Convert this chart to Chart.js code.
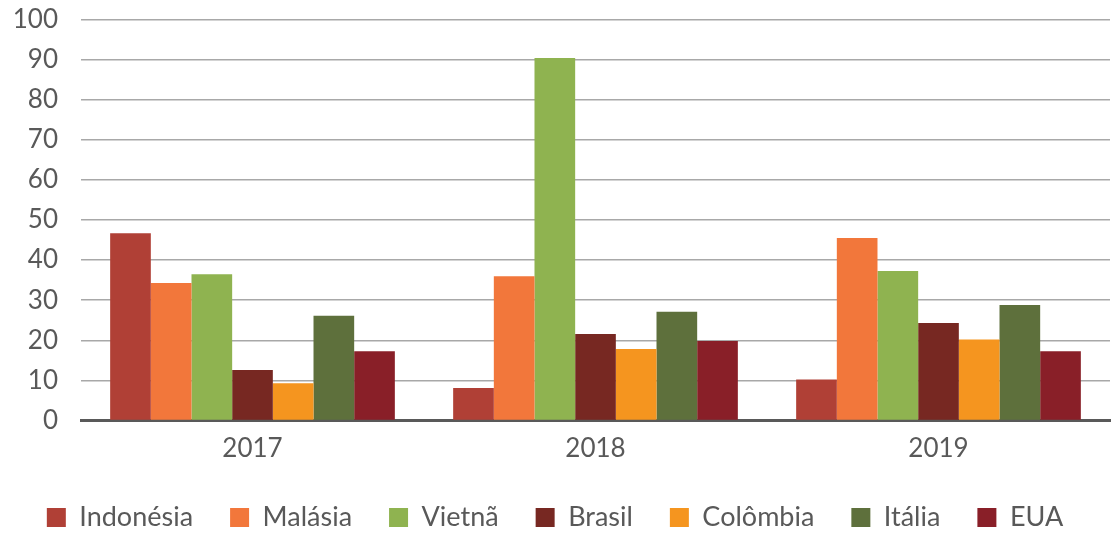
<!DOCTYPE html>
<html>
<head>
<meta charset="utf-8">
<script src="https://cdn.jsdelivr.net/npm/chart.js@4/dist/chart.umd.min.js"></script>
<style>
  html, body { margin: 0; padding: 0; background: #fff; }
  #wrap { width: 1111px; height: 533px; }
</style>
</head>
<body>
<div id="wrap"><canvas id="chart"></canvas></div>
<script>
const anos = ['2017', '2018', '2019'];
const paises = ['Indonésia', 'Malásia', 'Vietnã', 'Brasil', 'Colômbia', 'Itália', 'EUA'];
const cores = ['#b04036', '#f2773b', '#8fb350', '#772822', '#f5951f', '#5e703c', '#891f28'];

const indonesia = [46.7, 8.1, 10.2];
const malasia   = [34.3, 36.0, 45.5];
const vietna    = [36.5, 90.4, 37.3];
const brasil    = [12.6, 21.6, 24.3];
const colombia  = [9.3, 17.8, 20.2];
const italia    = [26.1, 27.1, 28.8];
const eua       = [17.3, 19.8, 17.3];

const series = [indonesia, malasia, vietna, brasil, colombia, italia, eua];
const texto = '#595959';
const fonte = 'Lato, "Open Sans", sans-serif';

// legenda mais baixa: altura fixa em vez do cálculo padrão
const alturaLegenda = {
  id: 'alturaLegenda',
  beforeInit(chart) {
    const fit = chart.legend.fit;
    chart.legend.fit = function () {
      fit.call(this);
      this.height = 66;
    };
  }
};

new Chart(document.getElementById('chart'), {
  type: 'bar',
  data: {
    labels: anos,
    datasets: series.map((d, i) => ({
      label: paises[i],
      data: d,
      backgroundColor: cores[i],
      borderWidth: 0
    }))
  },
  options: {
    responsive: true,
    maintainAspectRatio: false,
    animation: false,
    datasets: { bar: { categoryPercentage: 0.83, barPercentage: 1 } },
    layout: { padding: { top: 0, right: 1, bottom: 0, left: 0 } },
    plugins: {
      tooltip: { enabled: false },
      legend: {
        position: 'bottom',
        labels: {
          color: texto,
          font: { family: fonte, size: 27 },
          boxWidth: 19,
          boxHeight: 19,
          padding: 37
        }
      }
    },
    scales: {
      x: {
        grid: { display: false, drawTicks: false },
        border: { display: true, color: '#595959', width: 3 },
        ticks: { color: texto, font: { family: fonte, size: 26, lineHeight: 1.35 }, padding: 11 },
        afterFit(s) { s.height = 46.5; }
      },
      y: {
        min: 0,
        max: 100,
        ticks: { stepSize: 10, color: texto, font: { family: fonte, size: 26 }, padding: 23 },
        grid: { color: '#a8a8a8', lineWidth: 1.5, drawTicks: false },
        border: { display: false },
        afterFit(s) { s.width = 81; s.paddingTop = 19.5; }
      }
    }
  },
  plugins: [alturaLegenda]
});
</script>
</body>
</html>
